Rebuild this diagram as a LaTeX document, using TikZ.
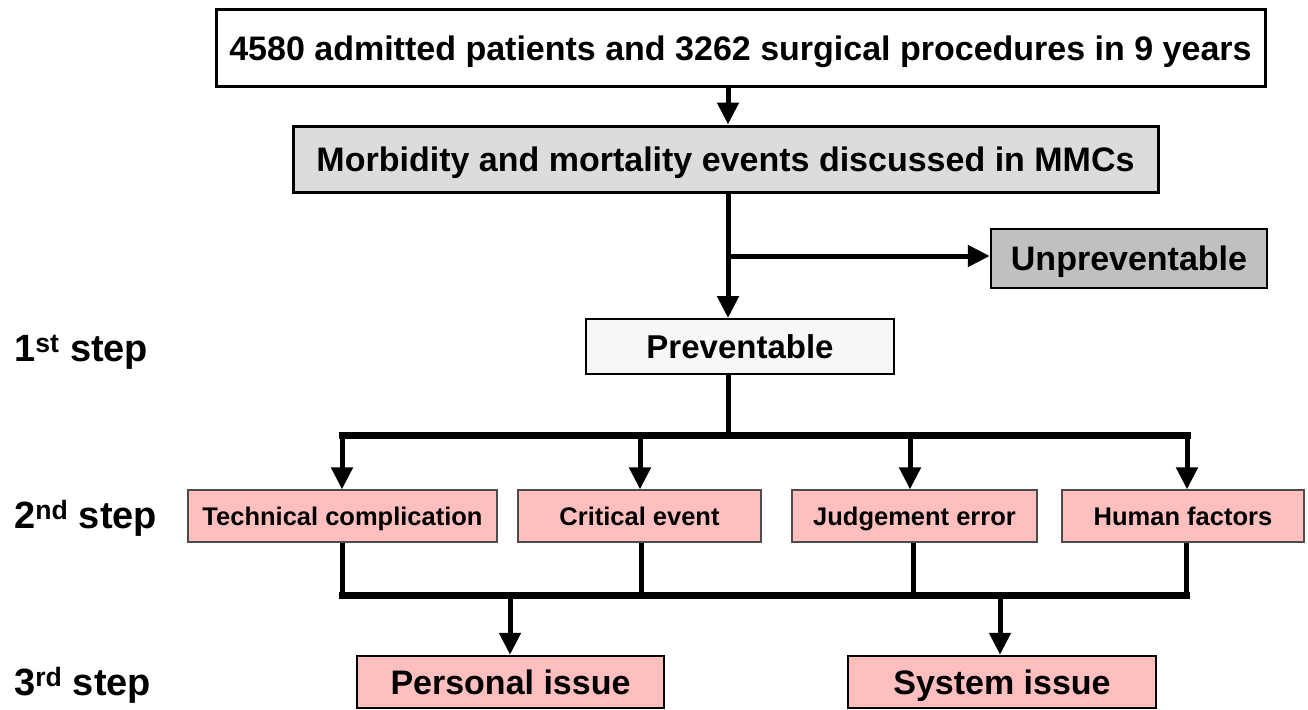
\documentclass[tikz,border=0pt]{standalone}
\usepackage{fontspec}
\setmainfont{Liberation Sans}
\usetikzlibrary{arrows.meta}
\definecolor{pinkfill}{HTML}{FFBFBF}
\definecolor{lgray}{HTML}{DCDCDC}
\definecolor{mgray}{HTML}{C0C0C0}
\newcommand{\fs}[1]{\fontsize{#1}{#1}\selectfont\bfseries}
\newcommand{\tx}[1]{\raisebox{0pt}[0.72em][0pt]{#1}}
\begin{document}
\begin{tikzpicture}[x=1pt,y=-1pt,
  box/.style={draw=black, line width=3pt, inner sep=0pt, align=center},
  pinkbox/.style={draw=black!70, line width=1.3pt, fill=pinkfill, inner sep=0pt, minimum height=52pt, font=\fs{25.5}},
  issuebox/.style={draw=black, line width=2.5pt, fill=pinkfill, inner sep=0pt, minimum height=52pt, font=\fs{34}},
  conn/.style={line width=5pt},
  bar/.style={line width=7pt},
  arr/.style={line width=5pt, -{Triangle[width=21pt,length=22pt]}},
  steplabel/.style={anchor=west, inner sep=0pt, font=\fs{38}}
]
\useasboundingbox (0,0) rectangle (1308,709);
% boxes
\node[box, fill=white, minimum width=1049pt, minimum height=76pt, font=\fs{34}] (top) at (740.5,48) {\tx{4580 admitted patients and 3262 surgical procedures in 9 years}};
\node[box, fill=lgray, minimum width=865pt, minimum height=66pt, font=\fs{34}] (mmc) at (725.5,159) {\tx{Morbidity and mortality events discussed in MMCs}};
\node[box, fill=mgray, line width=2.5pt, minimum width=276pt, minimum height=59pt, font=\fs{34}] (unp) at (1129,258.5) {\tx{Unpreventable}};
\node[box, fill=black!3, line width=2pt, minimum width=308pt, minimum height=55pt, font=\fs{33}] (prev) at (740,346.5) {\tx{Preventable}};
\node[pinkbox, minimum width=309pt] (tc) at (342.5,516) {\tx{Technical complication}};
\node[pinkbox, minimum width=243pt] (ce) at (639.5,516) {\tx{Critical event}};
\node[pinkbox, minimum width=245pt] (je) at (914.5,516) {\tx{Judgement error}};
\node[pinkbox, minimum width=242pt] (hf) at (1183,516) {\tx{Human factors}};
\node[issuebox, minimum width=307pt] (pi) at (510.5,682) {\tx{Personal issue}};
\node[issuebox, minimum width=308pt] (si) at (1002,682) {\tx{System issue}};
% step labels
\node[steplabel] (s1) at (14,352) {1\textsuperscript{st} step};
\node[steplabel] (s2) at (14,518) {2\textsuperscript{nd} step};
\node[steplabel] (s3) at (14,685) {3\textsuperscript{rd} step};
% coordinates
\coordinate (br) at (728,256);
\coordinate (b1) at (728,435);
\coordinate (b2) at (728,595);
% connectors
\draw[arr] (top.south -| br) -- (mmc.north -| br);
\draw[arr] (mmc.south -| br) -- (prev.north -| br);
\draw[arr] (br) -- (unp.west |- br);
\draw[conn] (prev.south -| b1) -- (b1);
\draw[bar, line cap=rect] (342,435) -- (1187,435);
\draw[arr] (342,435) -- (tc.north -| 342,0);
\draw[arr] (640,435) -- (ce.north -| 640,0);
\draw[arr] (910,435) -- (je.north -| 910,0);
\draw[arr] (1187,435) -- (hf.north -| 1187,0);
\draw[conn] (tc.south -| 342,0) -- (342,595);
\draw[conn] (ce.south -| 641,0) -- (641,595);
\draw[conn] (je.south -| 913,0) -- (913,595);
\draw[conn] (hf.south -| 1186,0) -- (1186,595);
\draw[bar, line cap=rect] (342,595) -- (1186,595);
\draw[arr] (510,595) -- (pi.north -| 510,0);
\draw[arr] (1000,595) -- (si.north -| 1000,0);
\end{tikzpicture}
\end{document}
